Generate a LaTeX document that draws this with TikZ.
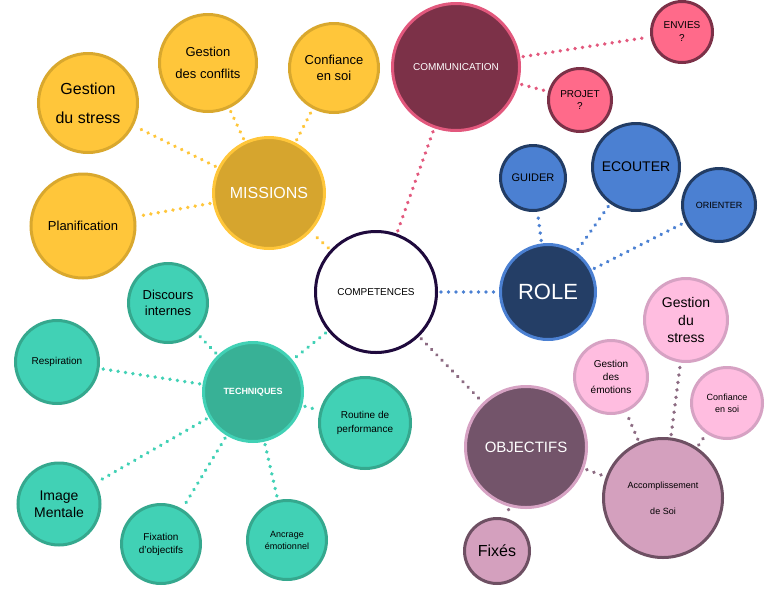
\documentclass[tikz,border=0pt]{standalone}
\usepackage{fontspec}
\setmainfont{Liberation Sans}
\usetikzlibrary{decorations.markings}
\definecolor{yelF}{HTML}{FFC63A}
\definecolor{yelB}{HTML}{D9A82E}
\definecolor{misF}{HTML}{D6A52E}
\definecolor{comF}{HTML}{7C3148}
\definecolor{comB}{HTML}{E2587D}
\definecolor{pinkF}{HTML}{FF6A8A}
\definecolor{bluF}{HTML}{4B80D2}
\definecolor{bluB}{HTML}{223C64}
\definecolor{rolF}{HTML}{243E66}
\definecolor{tealF}{HTML}{41D1B5}
\definecolor{tealB}{HTML}{35A88E}
\definecolor{tecF}{HTML}{38B196}
\definecolor{cmpB}{HTML}{1F0A3D}
\definecolor{objF}{HTML}{73546A}
\definecolor{objB}{HTML}{D6A2C3}
\definecolor{mauF}{HTML}{D4A0BE}
\definecolor{mauB}{HTML}{6E5063}
\definecolor{lpF}{HTML}{FFBDE0}
\definecolor{lpB}{HTML}{D6A2C3}
\definecolor{mauL}{HTML}{8C6B82}
\tikzset{
  bub/.style={circle, draw, line width=3pt, inner sep=0pt, align=center, text=black},
  yel/.style={bub, fill=yelF, draw=yelB},
  mis/.style={bub, fill=misF, draw=yelF, text=white},
  com/.style={bub, fill=comF, draw=comB, text=white},
  pnk/.style={bub, fill=pinkF, draw=comF},
  blu/.style={bub, fill=bluF, draw=bluB},
  rol/.style={bub, fill=rolF, draw=bluF, text=white},
  tea/.style={bub, fill=tealF, draw=tealB},
  tec/.style={bub, fill=tecF, draw=tealF, text=white},
  cmp/.style={bub, fill=white, draw=cmpB},
  obj/.style={bub, fill=objF, draw=objB, text=white},
  mau/.style={bub, fill=mauF, draw=mauB},
  lpk/.style={bub, fill=lpF, draw=lpB},
  dots/.style={draw=none, postaction={decorate}, decoration={markings,
     mark=between positions 3pt and -2pt step 7.5pt with {\fill[#1] (0,0) circle (1.9pt);}}},
  fs/.style 2 args={font=\fontsize{#1}{#2}\selectfont},
}
\begin{document}
\begin{tikzpicture}[x=1pt,y=-1pt]
\useasboundingbox (0,0) rectangle (768,592);
% centre
\node[cmp, minimum size=121pt, fs={10}{12}] (cmp) at (376,292) {COMPETENCES};
% missions
\node[mis, minimum size=111pt, fs={16}{19}] (mis) at (269,193) {MISSIONS};
\node[yel, minimum size=99pt, fs={16}{29}] (gds) at (88,103) {Gestion\\du stress};
\node[yel, minimum size=97pt, fs={13}{22}] (gdc) at (208,63) {Gestion\\des conflits};
\node[yel, minimum size=89pt, fs={13}{16}] (cfs) at (334,68) {Confiance\\en soi};
\node[yel, minimum size=104pt, fs={13}{16}] (pla) at (83,226) {Planification};
% communication
\node[com, minimum size=127pt, fs={10}{12}] (com) at (456,67) {COMMUNICATION};
\node[pnk, minimum size=61pt, fs={10}{13}] (env) at (682,32) {ENVIES\\?};
\node[pnk, minimum size=63pt, fs={10}{12}] (pro) at (580,100) {PROJET\\?};
% role
\node[rol, minimum size=95pt, fs={22}{26}] (rol) at (548,292) {ROLE};
\node[blu, minimum size=65pt, fs={11}{13}] (gui) at (533,178) {GUIDER};
\node[blu, minimum size=87pt, fs={14}{17}] (eco) at (636,167) {ECOUTER};
\node[blu, minimum size=73pt, fs={9}{11}] (ori) at (719,205) {ORIENTER};
% techniques
\node[tec, minimum size=99pt, fs={9}{11}] (tec) at (253,392) {\textbf{TECHNIQUES}};
\node[tea, minimum size=79pt, fs={13}{16}] (dis) at (168,303) {Discours\\internes};
\node[tea, minimum size=83pt, fs={10}{12}] (res) at (57,362) {Respiration};
\node[tea, minimum size=91pt, fs={10}{14}] (rou) at (365,423) {Routine de\\performance};
\node[tea, minimum size=82pt, fs={14}{17}] (img) at (59,504) {Image\\Mentale};
\node[tea, minimum size=79pt, fs={10}{13}] (fix) at (161,544) {Fixation\\d'objectifs};
\node[tea, minimum size=79pt, fs={9}{12}] (anc) at (287,540) {Ancrage\\émotionnel};
% objectifs
\node[obj, minimum size=121pt, fs={15}{18}] (obj) at (526,447) {OBJECTIFS};
\node[mau, minimum size=65pt, fs={16}{19}] (fixe) at (497,551) {Fixés};
\node[mau, minimum size=119pt, fs={9}{26}] (acc) at (663,498) {Accomplissement\\de Soi};
\node[lpk, minimum size=73pt, fs={10}{13}] (gde) at (611,377) {Gestion\\des\\émotions};
\node[lpk, minimum size=83pt, fs={14}{17.5}] (gst) at (686,320) {Gestion\\du\\stress};
\node[lpk, minimum size=71pt, fs={9}{12}] (cfp) at (727,403) {Confiance\\en soi};
% connectors
\path[dots=yelF] (cmp) -- (mis);
\path[dots=yelF] (mis) -- (gds);
\path[dots=yelF] (mis) -- (gdc);
\path[dots=yelF] (mis) -- (cfs);
\path[dots=yelF] (mis) -- (pla);
\path[dots=comB] (cmp) -- (com);
\path[dots=comB] (com) -- (env);
\path[dots=comB] (com) -- (pro);
\path[dots=bluF] (cmp) -- (rol);
\path[dots=bluF] (rol) -- (gui);
\path[dots=bluF] (rol) -- (eco);
\path[dots=bluF] (rol) -- (ori);
\path[dots=tealF] (cmp) -- (tec);
\path[dots=tealF] (tec) -- (dis);
\path[dots=tealF] (tec) -- (res);
\path[dots=tealF] (tec) -- (rou);
\path[dots=tealF] (tec) -- (img);
\path[dots=tealF] (tec) -- (fix);
\path[dots=tealF] (tec) -- (anc);
\path[dots=mauL] (cmp) -- (obj);
\path[dots=mauL] (obj) -- (fixe);
\path[dots=mauL] (obj) -- (acc);
\path[dots=mauL] (acc) -- (gde);
\path[dots=mauL] (acc) -- (gst);
\path[dots=mauL] (acc) -- (cfp);
\end{tikzpicture}
\end{document}
